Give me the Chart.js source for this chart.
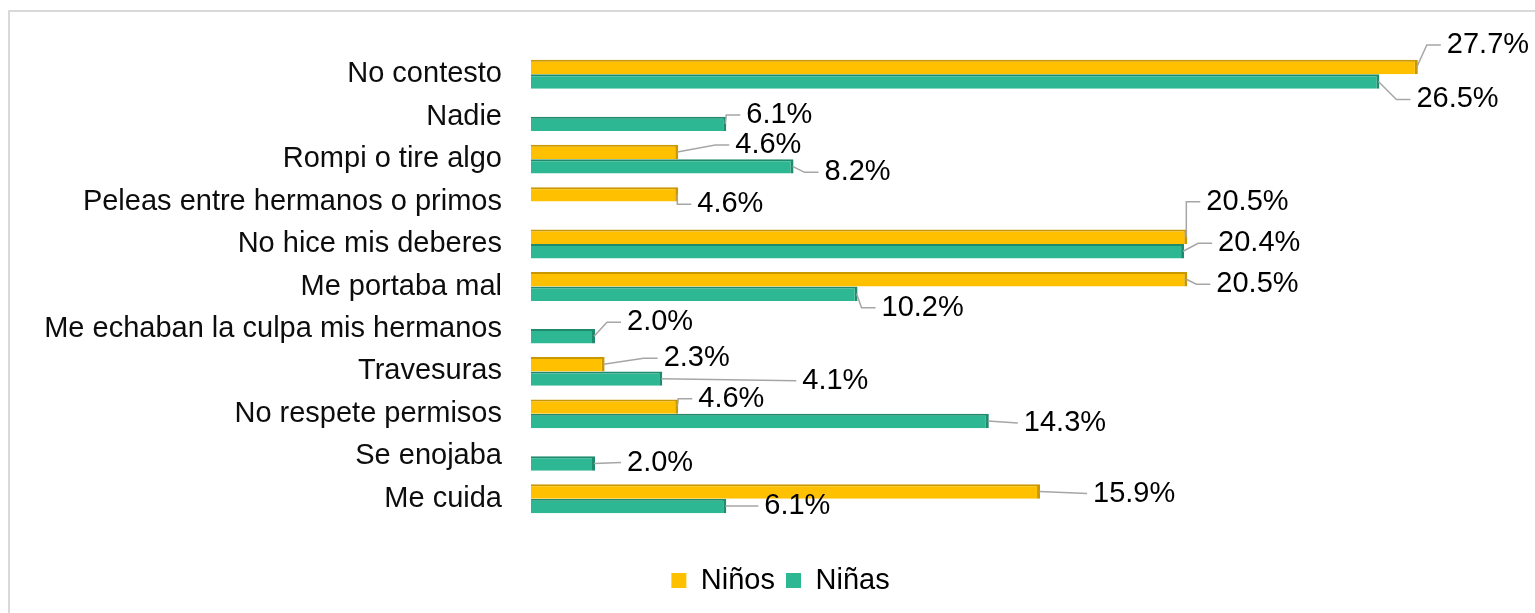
<!DOCTYPE html>
<html>
<head>
<meta charset="utf-8">
<script src="https://cdn.jsdelivr.net/npm/chart.js@4"></script>
<style>
  html, body { margin: 0; padding: 0; background: #fff; overflow: hidden; }
  #frame { position: absolute; left: 8px; top: 10px; width: 1530px; height: 620px; border: 2px solid #d9d9d9; box-sizing: border-box; }
  #wrap { position: absolute; left: 0; top: 0; width: 1535px; height: 613px; }
</style>
</head>
<body>
<div id="frame"></div>
<div id="wrap"><canvas id="chart"></canvas></div>
<script>
// chart data
const categories = [
    'No contesto',
    'Nadie',
    'Rompi o tire algo',
    'Peleas entre hermanos o primos',
    'No hice mis deberes',
    'Me portaba mal',
    'Me echaban la culpa mis hermanos',
    'Travesuras',
    'No respete permisos',
    'Se enojaba',
    'Me cuida'
];
const ninos = [27.7, null, 4.6, 4.6, 20.5, 20.5, null, 2.3, 4.6, null, 15.9];
const ninas = [26.5, 6.1, 8.2, null, 20.4, 10.2, 2.0, 4.1, 14.3, 2.0, 6.1];
const seriesNames = ['Niños', 'Niñas'];

// where each value label sits, relative to the end of its bar (dx, dy)
const ninosLabelPos = [[29, -22], null, [57, -7], [19, 10], [19, -35], [29, 5], null, [59, -6], [20, -8], null, [53, 2]];
const ninasLabelPos = [[37, 18], [20, -9], [31, 6], null, [34, -8], [24, 14], [32, -14], [140, 2], [35, 2], [32, -1], [38, 0]];

const FONT = "'Liberation Sans', Arial, sans-serif";

// value labels with leader lines, drawn like the Excel callouts
const leaderLabels = {
    id: 'leaderLabels',
    afterDatasetsDraw(chart) {
        const ctx = chart.ctx;
        const positions = [ninosLabelPos, ninasLabelPos];
        ctx.save();
        ctx.font = '29px ' + FONT;
        ctx.textAlign = 'left';
        ctx.textBaseline = 'middle';
        chart.data.datasets.forEach((ds, i) => {
            const meta = chart.getDatasetMeta(i);
            meta.data.forEach((bar, j) => {
                const v = ds.data[j];
                const pos = positions[i][j];
                if (v === null || !pos) return;
                const x0 = bar.x, y0 = bar.y;
                const tx = x0 + pos[0], ty = y0 + pos[1];

                ctx.strokeStyle = '#a6a6a6';
                ctx.lineWidth = 1.5;
                ctx.beginPath();
                ctx.moveTo(x0 - 1, y0);
                if (Math.abs(pos[1]) < 4) {
                    ctx.lineTo(tx - 6, ty);
                } else {
                    ctx.lineTo(tx - 20, ty);
                    ctx.lineTo(tx - 6, ty);
                }
                ctx.stroke();

                ctx.fillStyle = '#000';
                ctx.fillText(v.toFixed(1) + '%', tx, ty);
            });
        });
        ctx.restore();
    }
};

const ctx = document.getElementById('chart').getContext('2d');
const chart = new Chart(ctx, {
    type: 'bar',
    data: {
        labels: categories,
        datasets: [{
            label: seriesNames[0],
            data: ninos,
            backgroundColor: '#ffc000',
            borderColor: '#c99700',
            borderWidth: { top: 2, right: 3, bottom: 0, left: 0 },
            borderSkipped: false,
            categoryPercentage: 0.68,
            barPercentage: 1
        }, {
            label: seriesNames[1],
            data: ninas,
            backgroundColor: '#2eb793',
            borderColor: '#1f8a6c',
            borderWidth: { top: 2, right: 3, bottom: 0, left: 0 },
            borderSkipped: false,
            categoryPercentage: 0.68,
            barPercentage: 1
        }]
    },
    options: {
        indexAxis: 'y',
        responsive: true,
        maintainAspectRatio: false,
        animation: false,
        layout: {
            padding: { top: 53, bottom: 8, left: 26, right: 0 }
        },
        scales: {
            x: {
                min: 0,
                max: 31.36,
                grid: { display: false, drawTicks: false },
                border: { display: false },
                ticks: { display: false },
                afterFit(scale) { scale.height = 35; }
            },
            y: {
                grid: { display: false, drawTicks: false },
                border: { display: false },
                ticks: {
                    color: '#0d0d0d',
                    padding: 29,
                    font: { size: 29, family: FONT }
                },
                afterFit(scale) { scale.width = 505; }
            }
        },
        plugins: {
            legend: {
                position: 'bottom',
                labels: {
                    color: '#0d0d0d',
                    boxWidth: 15,
                    boxHeight: 15,
                    padding: 11,
                    font: { size: 29, family: FONT },
                    generateLabels(chart) {
                        return chart.data.datasets.map((ds, i) => ({
                            text: ds.label,
                            fillStyle: ds.backgroundColor,
                            strokeStyle: ds.backgroundColor,
                            lineWidth: 0,
                            hidden: false,
                            datasetIndex: i
                        }));
                    }
                }
            },
            tooltip: { enabled: false }
        }
    },
    plugins: [leaderLabels]
});
</script>
</body>
</html>
